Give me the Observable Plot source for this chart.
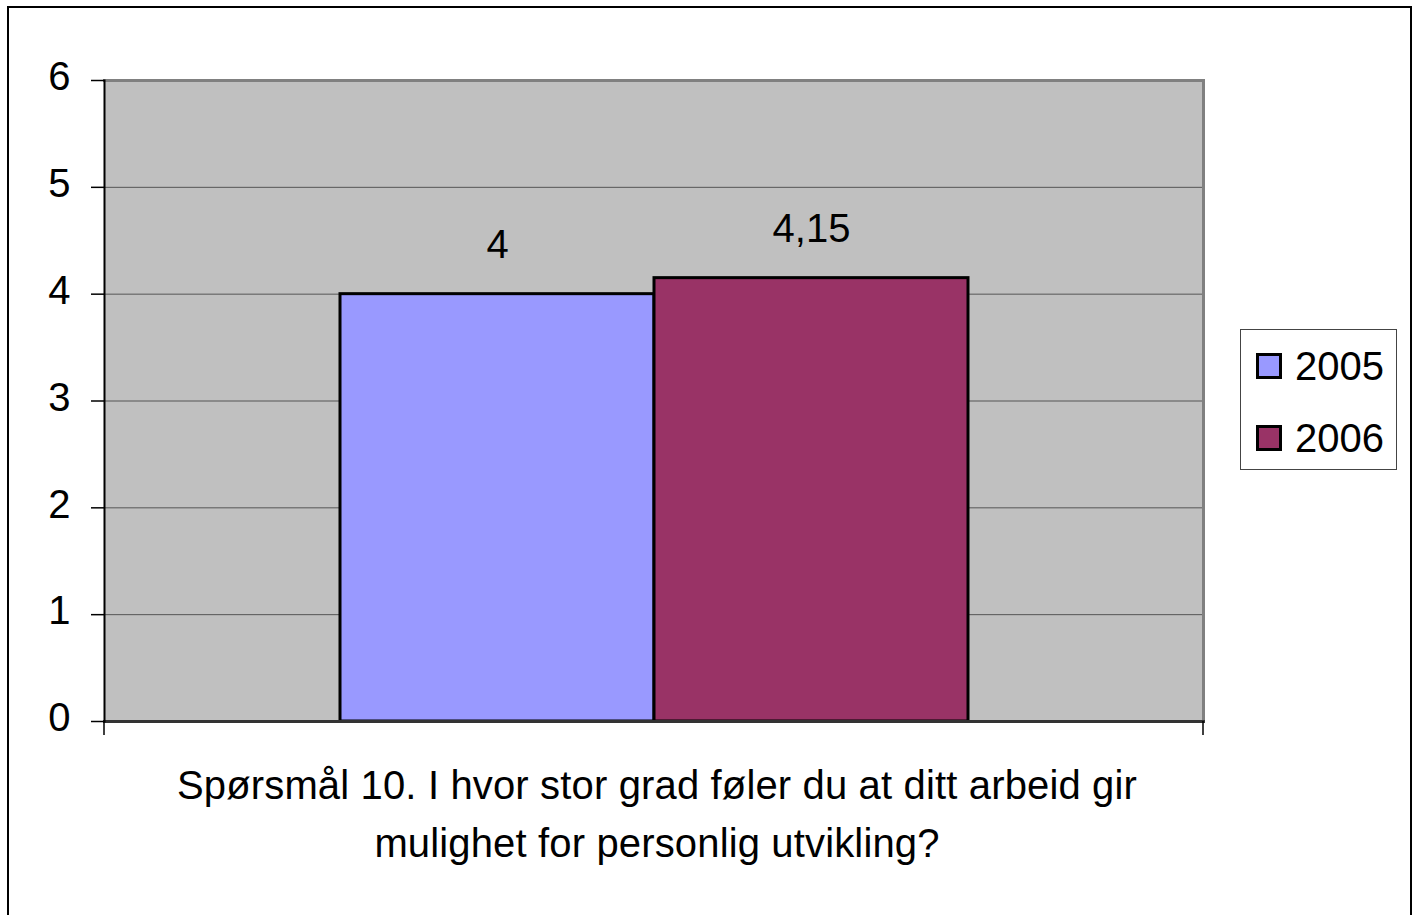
<!DOCTYPE html>
<html>
<head>
<meta charset="utf-8">
<script src="https://cdn.jsdelivr.net/npm/d3@7"></script>
<script src="https://cdn.jsdelivr.net/npm/@observablehq/plot@0.6"></script>
<style>
  html, body { margin: 0; padding: 0; background: #fff; overflow: hidden; }
  #wrap { position: relative; width: 1418px; height: 915px; font-family: "Liberation Sans", Arial, sans-serif; }
  #chart { position: absolute; left: 0; top: 0; }
  #border { position: absolute; left: 7px; top: 6px; width: 1405px; height: 940px; border: 2px solid #000; box-sizing: border-box; pointer-events: none; }
  #legend { position: absolute; left: 1240px; top: 329px; width: 157px; height: 141px; border: 1px solid #444; box-sizing: border-box; background: #fff; }
  .item { position: absolute; left: 15px; height: 46px; font-size: 40px; line-height: 46px; color: #000; }
  .sw { position: absolute; left: 0; top: 10px; width: 26px; height: 26px; border: 3px solid #000; box-sizing: border-box; }
  .lab { position: absolute; left: 39px; top: 0; white-space: nowrap; }
  #caption { position: absolute; left: 0; top: 756px; width: 1314px; text-align: center; font-size: 40px; line-height: 58px; letter-spacing: 0.15px; color: #000; }
</style>
</head>
<body>
<div id="wrap">
  <div id="chart"></div>
  <div id="legend"></div>
  <div id="caption"></div>
  <div id="border"></div>
</div>
<script>
const years = ["2005", "2006"];
const values = [4, 4.15];
const valueLabels = ["4", "4,15"];
const colors = ["#9999FF", "#993366"];
const yTicks = [0, 1, 2, 3, 4, 5, 6];
const gridTicks = [1, 2, 3, 4, 5];
const captionLines = ["Spørsmål 10. I hvor stor grad føler du at ditt arbeid gir", "mulighet for personlig utvikling?"];

const data = years.map((y, i) => ({year: y, value: values[i], label: valueLabels[i]}));

const categoryTicks = (index, scales, vals, dims) => {
  const g = d3.create("svg:g");
  const y0 = dims.height - dims.marginBottom;
  [dims.marginLeft, dims.width - dims.marginRight].forEach(x => {
    g.append("line").attr("x1", x).attr("x2", x).attr("y1", y0).attr("y2", y0 + 14)
      .attr("stroke", "#000").attr("stroke-width", 1.5);
  });
  return g.node();
};

const chart = Plot.plot({
  width: 1418,
  height: 915,
  marginLeft: 104,
  marginRight: 215,
  marginTop: 80,
  marginBottom: 194,
  style: {background: "transparent", fontFamily: "'Liberation Sans', Arial, sans-serif", fontSize: "40px", color: "#000"},
  x: {domain: years, paddingInner: 0, paddingOuter: 0.745, axis: null},
  y: {domain: [0, 6]},
  color: {domain: years, range: colors},
  marks: [
    Plot.frame({fill: "#C0C0C0", stroke: null}),
    Plot.gridY(gridTicks, {stroke: "#555", strokeOpacity: 1, strokeWidth: 1}),
    Plot.frame({anchor: "top", stroke: "#808080", strokeWidth: 3}),
    Plot.frame({anchor: "right", stroke: "#808080", strokeWidth: 3}),
    Plot.barY(data, {x: "year", y: "value", fill: "year", stroke: "#000", strokeWidth: 3}),
    Plot.text(data, {x: "year", y: "value", text: "label", lineAnchor: "bottom", dy: -36, fontSize: 40, fill: "#000"}),
    Plot.frame({anchor: "bottom", stroke: "#333", strokeWidth: 3}),
    Plot.frame({anchor: "left", stroke: "#000", strokeWidth: 2}),
    Plot.axisY({ticks: yTicks, tickSize: 13, stroke: "#000", strokeWidth: 1.5, label: null, tickFormat: () => ""}),
    Plot.axisY({ticks: yTicks, tickSize: 0, tickPadding: 34, fontSize: 40, label: null, dy: -3, tickFormat: d => String(d)}),
    categoryTicks
  ]
});
document.getElementById("chart").appendChild(chart);

const legend = document.getElementById("legend");
years.forEach((y, i) => {
  const item = document.createElement("div");
  item.className = "item";
  item.style.top = (i === 0 ? 13 : 85) + "px";
  const sw = document.createElement("div");
  sw.className = "sw";
  sw.style.background = colors[i];
  const lab = document.createElement("div");
  lab.className = "lab";
  lab.textContent = y;
  item.appendChild(sw);
  item.appendChild(lab);
  legend.appendChild(item);
});

const cap = document.getElementById("caption");
captionLines.forEach(t => {
  const d = document.createElement("div");
  d.textContent = t;
  cap.appendChild(d);
});
</script>
</body>
</html>
